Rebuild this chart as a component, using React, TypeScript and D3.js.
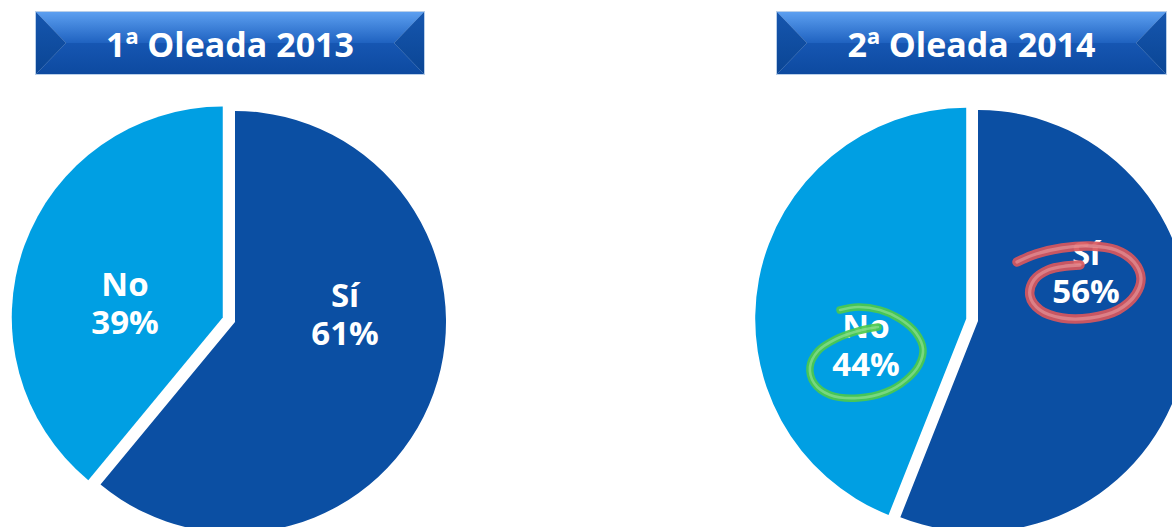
import React from "react";
import * as d3 from "d3";

// ---- data ----
const categories = ["Sí", "No"];
const wave1Values = [61, 39];
const wave2Values = [56, 44];
const titles = ["1ª Oleada 2013", "2ª Oleada 2014"];

// ---- layout / style ----
const W = 1172;
const H = 527;
const R = 211;
const COLORS: Record<string, string> = { "Sí": "#0b4fa3", "No": "#009fe3" };
const FONT = "'Open Sans', 'DejaVu Sans', sans-serif";

type Chart = {
  title: string;
  values: number[];
  cx: number;
  cy: number;
  banner: [number, number, number, number];
  explode: number;
  labelOffsets: [number, number][];
};

const charts: Chart[] = [
  {
    title: titles[0],
    values: wave1Values,
    cx: 235,
    cy: 322,
    banner: [36, 12, 424, 74],
    explode: 13,
    labelOffsets: [[110, -8], [-110, -19]],
  },
  {
    title: titles[1],
    values: wave2Values,
    cx: 978,
    cy: 321,
    banner: [777, 12, 1166, 74],
    explode: 12,
    labelOffsets: [[108, -49], [-112, 24]],
  },
];

// hand-drawn annotation strokes (relative to the label block centre)
const greenMark: [number, number][] = [
  [-26, -35], [-8, -38], [14, -35], [34, -26], [50, -12], [57, 4], [53, 20], [40, 35], [20, 47], [-8, 53], [-36, 50], [-52, 38], [-56, 22], [-48, 6], [-30, -6], [-8, -14], [12, -18],
];
const redMark: [number, number][] = [
  [-69, -10], [-50, -18], [-24, -24], [4, -26], [30, -22], [48, -10], [55, 6], [50, 22], [32, 38], [4, 46], [-24, 46], [-46, 38], [-56, 24], [-52, 8], [-38, -2], [-20, -6], [-6, -7],
];

function Banner({ b, title, id }: { b: [number, number, number, number]; title: string; id: string }) {
  const [x0, y0, x1, y1] = b;
  const ym = (y0 + y1) / 2;
  const bev = 30;
  const pts = (p: number[][]) => p.map((q) => q.join(",")).join(" ");
  return (
    <g>
      <defs>
        <linearGradient id={`top-${id}`} x1="0" y1="0" x2="0" y2="1">
          <stop offset="0" stopColor="#5c9ff0" />
          <stop offset="1" stopColor="#1f62c0" />
        </linearGradient>
        <linearGradient id={`bot-${id}`} x1="0" y1="0" x2="0" y2="1">
          <stop offset="0" stopColor="#1656b2" />
          <stop offset="1" stopColor="#0d4aa0" />
        </linearGradient>
        <linearGradient id={`side-${id}`} x1="0" y1="0" x2="0" y2="1">
          <stop offset="0" stopColor="#1656ae" />
          <stop offset="1" stopColor="#0a4594" />
        </linearGradient>
      </defs>
      <rect x={x0 - 1} y={y0 - 1} width={x1 - x0 + 2} height={y1 - y0 + 2} fill="#b9cfe9" />
      <polygon points={pts([[x0, y0], [x1, y0], [x1 - bev, ym], [x0 + bev, ym]])} fill={`url(#top-${id})`} />
      <polygon points={pts([[x0, y1], [x1, y1], [x1 - bev, ym], [x0 + bev, ym]])} fill={`url(#bot-${id})`} />
      <polygon points={pts([[x0, y0], [x0 + bev, ym], [x0, y1]])} fill={`url(#side-${id})`} />
      <polygon points={pts([[x1, y0], [x1 - bev, ym], [x1, y1]])} fill={`url(#side-${id})`} />
      <text
        x={(x0 + x1) / 2}
        y={57}
        textAnchor="middle"
        fill="#ffffff"
        fontFamily={FONT}
        fontWeight={700}
        fontSize={34}
      >
        {title}
      </text>
    </g>
  );
}

function Mark({ pts, x, y, color, light, width }: { pts: [number, number][]; x: number; y: number; color: string; light: string; width: number }) {
  const line = d3.line<[number, number]>().x((d) => x + d[0]).y((d) => y + d[1]).curve(d3.curveCatmullRom.alpha(0.5));
  const d = line(pts) || "";
  return (
    <g>
      <path d={d} fill="none" stroke={color} strokeWidth={width} strokeLinecap="round" strokeLinejoin="round" opacity={0.92} />
      <path d={d} fill="none" stroke={light} strokeWidth={width * 0.35} strokeLinecap="round" opacity={0.5} />
    </g>
  );
}

function Pie({ c, idx }: { c: Chart; idx: number }) {
  const pie = d3.pie<number>().sort(null).value((d) => d);
  const arcs = pie(c.values);
  const arc = d3.arc<d3.PieArcDatum<number>>().innerRadius(0).outerRadius(R);
  return (
    <g>
      {arcs.map((a, i) => {
        const cat = categories[i];
        const mid = (a.startAngle + a.endAngle) / 2;
        const off = cat === "No" ? c.explode : 0;
        const dx = Math.sin(mid) * off;
        const dy = -Math.cos(mid) * off;
        return (
          <path
            key={cat}
            d={arc(a) || ""}
            transform={`translate(${c.cx + dx},${c.cy + dy})`}
            fill={COLORS[cat]}
          />
        );
      })}
      {arcs.map((a, i) => {
        const cat = categories[i];
        const [ox, oy] = c.labelOffsets[i];
        const lx = c.cx + ox;
        const ly = c.cy + oy;
        return (
          <g key={`l-${cat}`}>
            <text x={lx} y={ly - 7} textAnchor="middle" fill="#ffffff" fontFamily={FONT} fontWeight={700} fontSize={33}>
              {cat}
            </text>
            <text x={lx} y={ly + 31} textAnchor="middle" fill="#ffffff" fontFamily={FONT} fontWeight={700} fontSize={33}>
              {`${c.values[i]}%`}
            </text>
          </g>
        );
      })}
      {idx === 1 && (
        <g>
          <Mark
            pts={greenMark}
            x={c.cx + c.labelOffsets[1][0]}
            y={c.cy + c.labelOffsets[1][1]}
            color="#4cc94c"
            light="#a8eaa8"
            width={7.5}
          />
          <Mark
            pts={redMark}
            x={c.cx + c.labelOffsets[0][0]}
            y={c.cy + c.labelOffsets[0][1]}
            color="#d9575c"
            light="#f0a9ab"
            width={9.5}
          />
        </g>
      )}
    </g>
  );
}

export default function App() {
  return (
    <div style={{ position: "absolute", left: 0, top: 0, width: W, height: H, overflow: "hidden", background: "#fff" }}>
      <svg width={W} height={H} viewBox={`0 0 ${W} ${H}`} style={{ display: "block" }}>
        <rect width={W} height={H} fill="#ffffff" />
        {charts.map((c, i) => (
          <g key={i}>
            <Pie c={c} idx={i} />
            <Banner b={c.banner} title={c.title} id={`b${i}`} />
          </g>
        ))}
      </svg>
    </div>
  );
}
